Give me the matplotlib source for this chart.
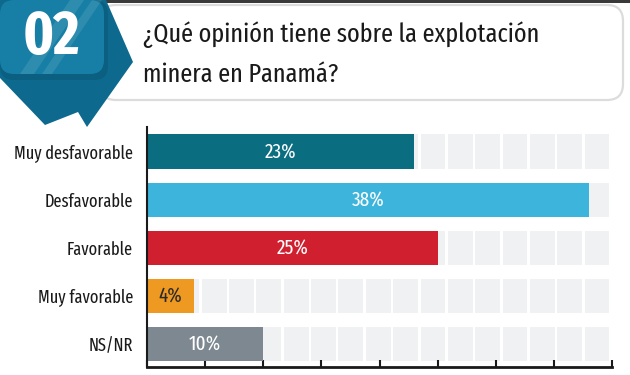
import matplotlib
matplotlib.use("Agg")
import matplotlib.pyplot as plt
from matplotlib.patches import Polygon, FancyBboxPatch, Rectangle
import numpy as np

categories = ["Muy desfavorable", "Desfavorable", "Favorable", "Muy favorable", "NS/NR"]
values = [23, 38, 25, 4, 10]
colors = ["#0a6e80", "#3db4dc", "#d0202f", "#ee9a22", "#7d8890"]
text_colors = ["white", "white", "white", "#2a2a2a", "white"]
title_lines = ["¿Qué opinión tiene sobre la explotación", "minera en Panamá?"]
badge = "02"

FONT = ["Fira Sans Extra Condensed", "DejaVu Sans"]
plt.rcParams['font.family'] = FONT

W, H = 630, 375
fig = plt.figure(figsize=(W / 100, H / 100), dpi=100)
fig.patch.set_facecolor("white")

# background/header axes in pixel coords
bg = fig.add_axes([0, 0, 1, 1])
bg.set_xlim(0, W)
bg.set_ylim(H, 0)
bg.axis("off")

bg.add_patch(Rectangle((0, 0), W, 2.5, color="#3a3a3a", lw=0))
bg.add_patch(FancyBboxPatch((100, 5), 523, 95, boxstyle="round,pad=0,rounding_size=16",
                            fc="white", ec="#dcdcdc", lw=1.6))
hexa = Polygon([(0, 0), (106, 0), (133, 62), (87, 127), (78, 112), (45, 125), (0, 78)],
               closed=True, fc="#0d6a8e", ec="none")
bg.add_patch(hexa)
bg.add_patch(FancyBboxPatch((0, 0), 108, 80, boxstyle="round,pad=0,rounding_size=14",
                            fc="#0b5f80", ec="none"))
bg.add_patch(FancyBboxPatch((0, 0), 104, 74, boxstyle="round,pad=0,rounding_size=14",
                            fc="#177fa6", ec="none"))
# subtle diagonal highlights
bg.add_patch(Polygon([(20, 74), (34, 74), (84, 0), (70, 0)], closed=True,
                     fc="white", alpha=0.10, ec="none"))
bg.add_patch(Polygon([(42, 74), (52, 74), (102, 0), (92, 0)], closed=True,
                     fc="white", alpha=0.10, ec="none"))
bg.text(51, 38, badge, color="white", fontsize=44, fontweight="bold",
        ha="center", va="center")
bg.text(143, 35, title_lines[0], fontsize=19, color="#1a1a1a", ha="left", va="center")
bg.text(143, 75, title_lines[1], fontsize=19, color="#1a1a1a", ha="left", va="center")

# main chart
ax = fig.add_axes([147 / W, 1 - 367 / H, (612 - 147) / W, (367 - 127) / H])
ax.set_facecolor("none")
y = np.arange(len(categories))
bar_h = 0.71

ncell = 17
cw = 40 / ncell
for i in range(ncell):
    ax.barh(y, [cw - 0.22] * len(y), left=i * cw, height=bar_h, color="#f0f1f3", lw=0, zorder=1)

ax.barh(y, values, height=bar_h, color=colors, lw=0, zorder=2)
for yi, v, tc in zip(y, values, text_colors):
    ax.text(v / 2, yi, f"{v}%", ha="center", va="center", color=tc, fontsize=15, zorder=3)

ax.set_xlim(0, 40)
ax.set_ylim(4.48, -0.51)
ax.set_yticks(y)
ax.set_yticklabels(categories, fontsize=12.8, color="#1a1a1a")
ax.tick_params(axis="y", length=0, pad=10)
ax.set_xticks(np.arange(0, 41, 5))
ax.set_xticklabels([])
ax.tick_params(axis="x", direction="in", length=5, width=1.5, color="#1a1a1a")
for s in ["top", "right"]:
    ax.spines[s].set_visible(False)
ax.spines["left"].set_linewidth(1.5)
ax.spines["bottom"].set_linewidth(2)
ax.spines["left"].set_color("#1a1a1a")
ax.spines["bottom"].set_color("#1a1a1a")

fig.savefig("out.png", dpi=100)
